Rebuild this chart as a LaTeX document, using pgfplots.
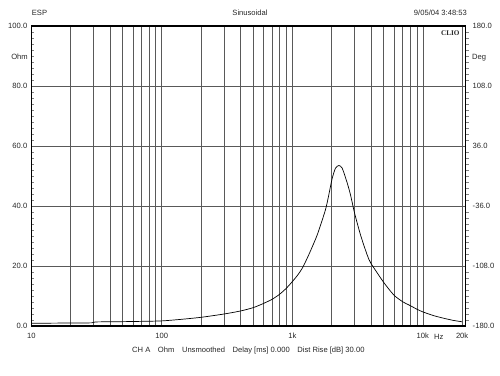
\documentclass[border=0pt]{standalone}
\usepackage{fontspec}
\setmainfont{Liberation Sans}
\newfontfamily\clioserif{Liberation Serif}
\usepackage{pgfplots}
\pgfplotsset{compat=1.18}
\pgfplotstableread{
f z
10 0.9
20 1.0
29 1.05
31 1.35
50 1.45
70 1.55
100 1.7
139 2.2
200 2.9
300 4.0
400 5.0
500 6.1
600 7.5
700 8.9
800 10.6
900 12.6
1000 14.8
1100 17.0
1200 19.5
1335 23.7
1549 30.3
1793 38.7
1903 43.7
2020 49.2
2141 52.6
2270 53.5
2411 52.6
2636 47.6
2791 43.7
3000 37.6
3333 30.3
3745 23.7
4000 20.9
5000 14.6
6000 10.3
7000 8.1
8000 6.8
9000 5.6
10000 4.7
12000 3.5
14400 2.6
17000 1.9
20000 1.4
}\imptable
\begin{document}
\begin{tikzpicture}
\useasboundingbox (-31.3pt,-49pt) rectangle (468.7pt,326pt);
\begin{axis}[
  at={(0pt,0pt)}, anchor=south west,
  scale only axis, width=434.4pt, height=300pt,
  xmode=log, xmin=10, xmax=21300, ymin=0, ymax=100,
  xtick={10,100,1000,10000,20000},
  xticklabels={10,100,1k,10k,20k},
  minor xtick={20,30,40,50,60,70,80,90,200,300,400,500,600,700,800,900,2000,3000,4000,5000,6000,7000,8000,9000},
  xmajorgrids, xminorgrids, ymajorgrids,
  major grid style={black!65, line width=0.7pt},
  minor grid style={black!65, line width=0.7pt},
  ytick={0,20,40,60,80,100},
  yticklabels={0.0,20.0,40.0,60.0,80.0,100.0},
  minor y tick num=9,
  ytick pos=left,
  tick align=inside,
  major tick length=0pt, minor tick length=3pt,
  xtick style={draw=none},
  axis line style={line width=1.1pt},
  ticklabel style={font=\fontsize{7.6}{9}\selectfont, text=black!85},
  yticklabel style={xshift=-0.5pt},
  xticklabel style={yshift=-3.5pt},
  /pgf/number format/assume math mode=true,
]
\addplot[black, line width=0.7pt, smooth, tension=0.4] table[x=f, y=z] {\imptable};
\end{axis}
\begin{axis}[
  at={(0pt,0pt)}, anchor=south west,
  scale only axis, width=434.4pt, height=300pt,
  xmode=log, xmin=10, xmax=21300, ymin=-180, ymax=180,
  axis y line*=right, axis x line=none,
  ytick={-180,-108,-36,36,108,180},
  yticklabels={-180.0,-108.0,-36.0,36.0,108.0,180.0},
  minor y tick num=9,
  tick align=outside,
  major tick length=0pt, minor tick length=3pt,
  axis line style={line width=1.1pt},
  ticklabel style={font=\fontsize{7.6}{9}\selectfont, text=black!85},
  yticklabel style={xshift=3.5pt},
  /pgf/number format/assume math mode=true,
]
\addplot[draw=none] coordinates {(100,0)};
\end{axis}
\begin{scope}[every node/.style={font=\fontsize{7.6}{9}\selectfont, text=black!85, inner sep=0pt}]
\node[anchor=base west] at (0.4pt,310.5pt) {ESP};
\node[anchor=base] at (218.7pt,310.5pt) {Sinusoidal};
\node[anchor=base east] at (435.7pt,310.5pt) {9/05/04 3:48:53};
\node[anchor=base east] at (-3.3pt,266.5pt) {Ohm};
\node[anchor=base west] at (440.7pt,266.5pt) {Deg};
\node[anchor=base west] at (402.7pt,-13pt) {Hz};
\node[anchor=base west] at (100.7pt,-26.5pt) {CH A\quad Ohm\quad Unsmoothed\quad Delay [ms] 0.000\quad Dist Rise [dB] 30.00};
\node[anchor=base, font=\clioserif\bfseries\fontsize{7.2}{8}\selectfont] at (419pt,290.5pt) {CLIO};
\end{scope}
\end{tikzpicture}
\end{document}
